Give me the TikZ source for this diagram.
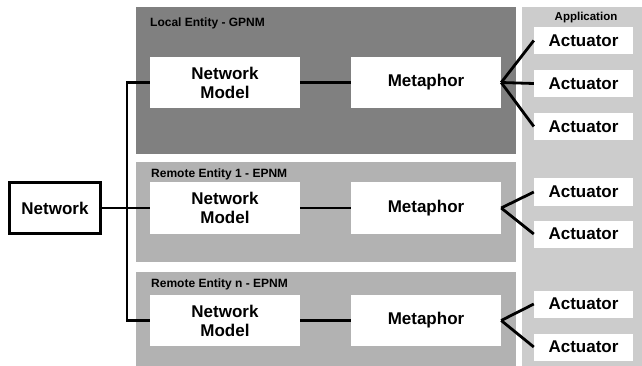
\documentclass[tikz,border=0pt]{standalone}
\usepackage{fontspec}
\setmainfont{Liberation Sans}
\usetikzlibrary{positioning}

\begin{document}
\begin{tikzpicture}[x=1pt, y=-1pt, blk/.style={fill=white, inner sep=0pt, minimum width=150pt, minimum height=51pt, align=center, font=\bfseries\fontsize{17}{19}\selectfont}, act/.style={fill=white, inner sep=0pt, minimum width=99pt, minimum height=27pt, font=\bfseries\fontsize{17}{19}\selectfont}, ttl/.style={anchor=base west, inner sep=0pt, font=\bfseries\fontsize{12}{14}\selectfont}, wire/.style={line width=2.8pt}]

\useasboundingbox (0,0) rectangle (642,366);
% panels
\fill[black!50] (136,7) rectangle (516,154);
\fill[black!30] (136,162) rectangle (516,262);
\fill[black!30] (136,272) rectangle (516,366);
\fill[black!20] (522,7) rectangle (642,366);
\node[ttl] (tl) at (150,27) {Local Entity - GPNM};
\node[ttl] (t1) at (151,178) {Remote Entity 1 - EPNM};
\node[ttl] (tn) at (151,287) {Remote Entity n - EPNM};
\node[ttl, anchor=base, font=\bfseries\fontsize{11.5}{13}\selectfont] (ta) at (586,21) {Application};

\node[draw, line width=3pt, minimum width=91pt, minimum height=50pt, inner sep=0pt, font=\bfseries\fontsize{17}{19}\selectfont] (net) at (55,208) {Network};

\node[blk] (nm1) at (225,82.5) {Network\\Model};
\node[blk] (mp1) at (426,82.5) {Metaphor};
\node[act] (a1) at (583.5,40.5) {Actuator};
\node[act] (a2) at (583.5,83.5) {Actuator};
\node[act] (a3) at (583.5,126.5) {Actuator};

\node[blk] (nm2) at (225,208) {Network\\Model};
\node[blk] (mp2) at (426,208) {Metaphor};
\node[act] (b1) at (583.5,192) {Actuator};
\node[act] (b2) at (583.5,234) {Actuator};

\node[blk] (nm3) at (225,320.5) {Network\\Model};
\node[blk] (mp3) at (426,320.5) {Metaphor};
\node[act] (c1) at (583.5,304) {Actuator};
\node[act] (c2) at (583.5,347) {Actuator};

% wires
\coordinate (bt) at (127,82.5);
\coordinate (bb) at (127,320.5);
\draw[wire] (nm1.west) -- (bt) -- (bb) -- (nm3.west);
\draw[wire] (net.east) -- (nm2.west);
\draw[wire] (nm1) -- (mp1);
\draw[wire] (nm2) -- (mp2);
\draw[wire] (nm3) -- (mp3);
\foreach \a in {a1,a2,a3} \draw[wire] (mp1.east) -- (\a.west);
\foreach \a in {b1,b2} \draw[wire] (mp2.east) -- (\a.west);
\foreach \a in {c1,c2} \draw[wire] (mp3.east) -- (\a.west);
\end{tikzpicture}
\end{document}
